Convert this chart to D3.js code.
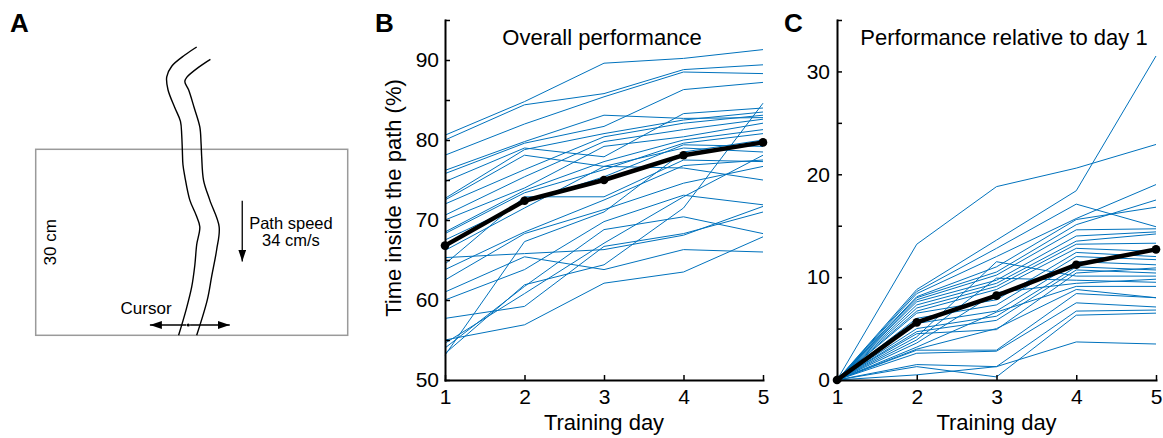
<!DOCTYPE html>
<html>
<head>
<meta charset="utf-8">
<script src="https://cdn.jsdelivr.net/npm/d3@7"></script>
<style>
  body { margin: 0; background: #fff; }
  svg { display: block; font-family: "Liberation Sans", Arial, sans-serif; }
</style>
</head>
<body>
<svg id="fig" width="1163" height="438"></svg>
<script>
// data ---------------------------------------------------------
const days = [1, 2, 3, 4, 5];

// B: time inside the path (%), one row per subject
const overallLines = [
  [80.6, 84.8, 89.6, 90.2, 91.3],
  [80.0, 84.4, 85.8, 88.8, 89.4],
  [78.1, 82.0, 85.4, 88.5, 88.3],
  [76.2, 79.8, 83.1, 82.7, 82.8],
  [75.8, 79.6, 81.7, 86.3, 87.2],
  [74.8, 79.0, 77.9, 83.3, 84.0],
  [72.7, 78.8, 80.8, 82.5, 83.5],
  [72.5, 78.1, 76.7, 76.5, 75.0],
  [72.0, 76.3, 80.4, 82.1, 83.1],
  [70.6, 75.4, 79.8, 81.3, 82.6],
  [70.0, 74.0, 79.2, 80.4, 82.1],
  [68.5, 73.7, 77.3, 80.0, 81.3],
  [68.3, 73.4, 76.3, 79.6, 80.8],
  [67.5, 72.2, 75.4, 79.4, 79.2],
  [66.2, 71.5, 76.7, 79.0, 78.5],
  [65.3, 65.8, 66.3, 68.1, 71.7],
  [64.5, 72.9, 72.9, 77.5, 77.3],
  [63.8, 68.5, 72.5, 76.8, 77.5],
  [62.5, 68.3, 71.3, 74.6, 76.7],
  [61.0, 65.4, 63.8, 66.3, 66.0],
  [60.0, 63.8, 69.8, 73.1, 71.9],
  [57.7, 59.2, 66.7, 68.3, 71.0],
  [55.0, 56.9, 62.1, 63.5, 67.9],
  [54.6, 60.8, 67.1, 72.9, 78.1],
  [54.0, 61.7, 68.8, 70.4, 68.3],
  [53.3, 61.9, 64.4, 71.5, 84.6],
  [53.1, 67.3, 71.0, 78.5, 80.0]
];
const overallMean = [66.8, 72.4, 75.0, 78.1, 79.7];
const overallTicks = [50, 55, 60, 65, 70, 75, 80, 85, 90, 95];

// C: improvement relative to day 1
const relativeLines = [
  [0, 13.2, 18.8, 20.6, 22.9],
  [0, 8.8, 13.6, 18.4, 31.5],
  [0, 8.6, 12.8, 17.1, 14.9],
  [0, 8.4, 12.0, 15.7, 19.0],
  [0, 8.1, 11.0, 15.6, 16.8],
  [0, 8.0, 10.5, 15.1, 17.5],
  [0, 7.8, 10.2, 14.6, 14.7],
  [0, 7.6, 9.7, 14.0, 14.4],
  [0, 7.3, 9.4, 13.5, 14.2],
  [0, 7.0, 9.1, 13.2, 13.3],
  [0, 6.7, 8.8, 12.8, 12.5],
  [0, 6.5, 7.8, 12.4, 12.0],
  [0, 6.0, 7.3, 12.0, 11.7],
  [0, 5.5, 6.7, 11.5, 11.2],
  [0, 5.0, 6.2, 11.0, 10.7],
  [0, 4.7, 5.8, 10.7, 10.4],
  [0, 4.5, 4.9, 10.4, 10.9],
  [0, 4.2, 11.5, 10.1, 10.1],
  [0, 3.9, 9.9, 9.7, 9.5],
  [0, 3.6, 8.5, 9.4, 9.8],
  [0, 3.2, 6.6, 9.1, 9.1],
  [0, 3.0, 5.0, 8.8, 8.0],
  [0, 2.9, 2.9, 8.4, 8.0],
  [0, 2.6, 2.8, 7.5, 7.1],
  [0, 1.5, 1.3, 6.7, 6.8],
  [0, 1.3, 0.3, 6.3, 6.5],
  [0, 0.5, 1.3, 3.7, 3.5]
];
const relativeMean = [0, 5.6, 8.2, 11.2, 12.7];
const relativeTicks = [0, 5, 10, 15, 20, 25, 30, 35];

// A: sketch of the task, in cm (box is 50 x 30)
const pathLeft = [
  [25.8, 46.5], [23.9, 45.2], [21.8, 43.4], [21.0, 41.7], [21.2, 39.6],
  [22.3, 36.7], [23.2, 34.5], [23.4, 32.3], [23.5, 29.9], [23.6, 27.5],
  [23.9, 25.6], [24.7, 21.8], [25.7, 19.4], [26.3, 17.5], [25.8, 14.6],
  [25.5, 11.3], [25.0, 7.8], [24.1, 4.1], [22.9, 0]
];
const pathRight = [
  [28.0, 44.5], [26.2, 43.3], [24.2, 41.6], [23.9, 40.9], [24.5, 39.6],
  [25.4, 36.7], [26.3, 33.6], [26.5, 31.0], [26.6, 28.8], [26.9, 25.0],
  [27.9, 21.8], [29.4, 17.5], [29.0, 13.8], [28.2, 9.5], [27.5, 5.7],
  [25.8, 0]
];

// figure -------------------------------------------------------
const svg = d3.select("#fig");
const blue = "#0072BD";
const fontFam = '"Liberation Sans", Arial, sans-serif';

const defs = svg.append("defs");
defs.append("marker")
  .attr("id", "head")
  .attr("viewBox", "0 0 12 8")
  .attr("refX", 12).attr("refY", 4)
  .attr("markerUnits", "userSpaceOnUse")
  .attr("markerWidth", 12).attr("markerHeight", 8)
  .attr("orient", "auto-start-reverse")
  .append("path").attr("d", "M0,0L12,4L0,8Z").attr("fill", "#000");

// panel letters
[["A", 10], ["B", 375], ["C", 784]].forEach(([t, x]) => {
  svg.append("text").attr("x", x).attr("y", 32)
    .attr("font-size", 26).attr("font-weight", "bold").text(t);
});

// panel A ------------------------------------------------------
const ax = d3.scaleLinear().domain([0, 50]).range([35.7, 347.7]);
const ay = d3.scaleLinear().domain([0, 30]).range([335.3, 149.3]);

svg.append("rect")
  .attr("x", ax(0)).attr("y", ay(30))
  .attr("width", ax(50) - ax(0)).attr("height", ay(0) - ay(30))
  .attr("fill", "none").attr("stroke", "#9a9a9a").attr("stroke-width", 1.5);

const sketch = d3.line().x(d => ax(d[0])).y(d => ay(d[1])).curve(d3.curveCatmullRom);
[pathLeft, pathRight].forEach(p => {
  svg.append("path").attr("d", sketch(p))
    .attr("fill", "none").attr("stroke", "#000").attr("stroke-width", 1.4);
});

// path speed arrow
svg.append("line")
  .attr("x1", ax(33.1)).attr("y1", ay(21.7))
  .attr("x2", ax(33.1)).attr("y2", ay(11.9))
  .attr("stroke", "#000").attr("stroke-width", 1.3)
  .attr("marker-end", "url(#head)");
svg.append("text").attr("x", ax(40.9)).attr("y", ay(17.1))
  .attr("text-anchor", "middle").attr("font-size", 16.5).text("Path speed");
svg.append("text").attr("x", ax(40.9)).attr("y", ay(14.4))
  .attr("text-anchor", "middle").attr("font-size", 16.5).text("34 cm/s");

// box height
svg.append("text")
  .attr("transform", `translate(${ax(3.3)},${ay(15)}) rotate(-90)`)
  .attr("text-anchor", "middle").attr("font-size", 17).text("30 cm");

// cursor
svg.append("line")
  .attr("x1", ax(24.45)).attr("y1", ay(1.66))
  .attr("x2", ax(18.3)).attr("y2", ay(1.66))
  .attr("stroke", "#000").attr("stroke-width", 1.3)
  .attr("marker-end", "url(#head)");
svg.append("line")
  .attr("x1", ax(24.45)).attr("y1", ay(1.66))
  .attr("x2", ax(31.1)).attr("y2", ay(1.66))
  .attr("stroke", "#000").attr("stroke-width", 1.3)
  .attr("marker-end", "url(#head)");
svg.append("circle").attr("cx", ax(24.45)).attr("cy", ay(1.66)).attr("r", 2).attr("fill", "#fff");
svg.append("circle").attr("cx", ax(24.45)).attr("cy", ay(1.66)).attr("r", 1.6).attr("fill", "#000");
svg.append("text").attr("x", ax(13.6)).attr("y", ay(3.4))
  .attr("font-size", 17).text("Cursor");

// panels B and C -----------------------------------------------
function drawPanel(opt) {
  const x = d3.scaleLinear().domain([1, 5]).range([opt.left, opt.right]);
  const y = d3.scaleLinear().domain(opt.yDomain).range([380, 20]);
  const g = svg.append("g");
  const line = d3.line().x((d, i) => x(days[i])).y(d => y(d));

  g.selectAll(".subject").data(opt.lines).enter().append("path")
    .attr("class", "subject")
    .attr("d", line)
    .attr("fill", "none").attr("stroke", blue).attr("stroke-width", 1);

  g.append("path").datum(opt.mean).attr("d", line)
    .attr("fill", "none").attr("stroke", "#000")
    .attr("stroke-width", 4.5).attr("stroke-linejoin", "round");
  g.selectAll(".mean").data(opt.mean).enter().append("circle")
    .attr("class", "mean")
    .attr("cx", (d, i) => x(days[i])).attr("cy", d => y(d)).attr("r", 4.3);

  const yAxis = g.append("g").attr("transform", `translate(${opt.left},0)`)
    .call(d3.axisLeft(y).tickValues(opt.ticks)
      .tickFormat(d => d % 10 === 0 ? d : "")
      .tickSizeInner(-5).tickSizeOuter(0).tickPadding(opt.pad));
  const xAxis = g.append("g").attr("transform", "translate(0,380)")
    .call(d3.axisBottom(x).tickValues(days).tickFormat(d3.format("d"))
      .tickSizeInner(-5).tickSizeOuter(0).tickPadding(9));
  [yAxis, xAxis].forEach(a => {
    a.attr("font-size", 21).attr("font-family", fontFam);
    a.select(".domain").attr("stroke-width", 2).attr("stroke-linecap", "square");
    a.selectAll(".tick line").attr("stroke-width", 1.5);
    a.selectAll(".tick text").attr("fill", "#000");
  });

  g.append("text").attr("x", opt.titleX).attr("y", 45)
    .attr("text-anchor", "middle").attr("font-size", 22).text(opt.title);
  g.append("text").attr("x", (opt.left + opt.right) / 2).attr("y", 430)
    .attr("text-anchor", "middle").attr("font-size", 22).text("Training day");
  if (opt.yLabel) {
    g.append("text").attr("transform", "translate(401,198) rotate(-90)")
      .attr("text-anchor", "middle").attr("font-size", 22).text(opt.yLabel);
  }
}

drawPanel({
  left: 445, right: 763, yDomain: [50, 95], ticks: overallTicks, pad: 6,
  lines: overallLines, mean: overallMean,
  title: "Overall performance", titleX: 602,
  yLabel: "Time inside the path (%)"
});
drawPanel({
  left: 837, right: 1156, yDomain: [0, 35], ticks: relativeTicks, pad: 7,
  lines: relativeLines, mean: relativeMean,
  title: "Performance relative to day 1", titleX: 1004
});
</script>
</body>
</html>
